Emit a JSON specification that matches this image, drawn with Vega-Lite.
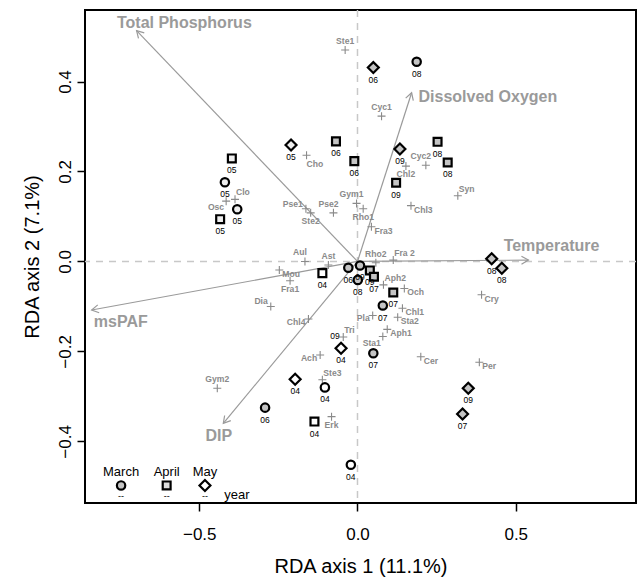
{
  "$schema": "https://vega.github.io/schema/vega-lite/v6.json",
  "width": 551,
  "height": 493,
  "autosize": "none",
  "padding": {"left": 85, "top": 10, "right": 2, "bottom": 74},
  "background": "white",
  "config": {
    "font": "Liberation Sans",
    "view": {"stroke": "black", "strokeWidth": 2},
    "axis": {
      "domain": false, "grid": false, "tickColor": "black", "tickWidth": 1.5, "tickSize": 8,
      "labelColor": "black", "labelFontSize": 17, "labelFont": "Liberation Sans",
      "titleColor": "black", "titleFontSize": 20, "titleFontWeight": "normal", "titleFont": "Liberation Sans"
    }
  },
  "datasets": {
    "sites": [
      {"month": "March", "year": "08", "x": 0.187, "y": 0.444},
      {"month": "March", "year": "05", "x": -0.419, "y": 0.176},
      {"month": "March", "year": "05", "x": -0.380, "y": 0.116},
      {"month": "March", "year": "06", "x": -0.029, "y": -0.014},
      {"month": "March", "year": "09", "x": 0.008, "y": -0.009},
      {"month": "March", "year": "08", "x": 0.001, "y": -0.041},
      {"month": "March", "year": "07", "x": 0.080, "y": -0.098},
      {"month": "March", "year": "07", "x": 0.050, "y": -0.204},
      {"month": "March", "year": "04", "x": -0.103, "y": -0.280},
      {"month": "March", "year": "06", "x": -0.292, "y": -0.325},
      {"month": "March", "year": "04", "x": -0.021, "y": -0.452},
      {"month": "April", "year": "06", "x": -0.068, "y": 0.267},
      {"month": "April", "year": "06", "x": -0.010, "y": 0.223},
      {"month": "April", "year": "08", "x": 0.253, "y": 0.266},
      {"month": "April", "year": "08", "x": 0.285, "y": 0.220},
      {"month": "April", "year": "09", "x": 0.122, "y": 0.175},
      {"month": "April", "year": "05", "x": -0.397, "y": 0.229},
      {"month": "April", "year": "05", "x": -0.434, "y": 0.094},
      {"month": "April", "year": "04", "x": -0.111, "y": -0.026},
      {"month": "April", "year": "09", "x": 0.039, "y": -0.020},
      {"month": "April", "year": "07", "x": 0.052, "y": -0.034},
      {"month": "April", "year": "07", "x": 0.113, "y": -0.069},
      {"month": "April", "year": "04", "x": -0.136, "y": -0.356},
      {"month": "May", "year": "06", "x": 0.050, "y": 0.431},
      {"month": "May", "year": "09", "x": 0.134, "y": 0.250},
      {"month": "May", "year": "05", "x": -0.210, "y": 0.259},
      {"month": "May", "year": "08", "x": 0.424, "y": 0.006},
      {"month": "May", "year": "08", "x": 0.456, "y": -0.015},
      {"month": "May", "year": "09", "x": 0.350, "y": -0.282},
      {"month": "May", "year": "07", "x": 0.332, "y": -0.339},
      {"month": "May", "year": "04", "x": -0.052, "y": -0.193},
      {"month": "May", "year": "04", "x": -0.197, "y": -0.262}
    ],
    "extraLabels": [
      {"label": "09", "x": -0.071, "y": -0.166}
    ],
    "species": [
      {"name": "Ste1", "x": -0.039, "y": 0.470, "pos": "n"},
      {"name": "Cyc1", "x": 0.076, "y": 0.323, "pos": "n"},
      {"name": "Cho", "x": -0.161, "y": 0.236, "pos": "se"},
      {"name": "Cyc2", "x": 0.216, "y": 0.214, "pos": "nw"},
      {"name": "Chl2", "x": 0.153, "y": 0.212, "pos": "s"},
      {"name": "Syn", "x": 0.317, "y": 0.146, "pos": "ne"},
      {"name": "Chl3", "x": 0.169, "y": 0.124, "pos": "e"},
      {"name": "Gym1", "x": -0.003, "y": 0.129, "pos": "nw"},
      {"name": "Rho1", "x": 0.018, "y": 0.117, "pos": "s"},
      {"name": "Pse2", "x": -0.076, "y": 0.108, "pos": "nw"},
      {"name": "Pse1", "x": -0.163, "y": 0.117, "pos": "wn"},
      {"name": "Ste2", "x": -0.148, "y": 0.108, "pos": "s"},
      {"name": "Osc", "x": -0.415, "y": 0.134, "pos": "sw"},
      {"name": "Clo", "x": -0.387, "y": 0.138, "pos": "ne"},
      {"name": "Fra3", "x": 0.044, "y": 0.077, "pos": "e"},
      {"name": "Fra 2", "x": 0.113, "y": 0.003, "pos": "ne"},
      {"name": "Rho2", "x": 0.058, "y": -0.003, "pos": "n"},
      {"name": "Ast", "x": -0.092, "y": -0.008, "pos": "n"},
      {"name": "Aul", "x": -0.166, "y": 0.000, "pos": "nw"},
      {"name": "Mou", "x": -0.247, "y": -0.019, "pos": "e"},
      {"name": "Fra1", "x": -0.213, "y": -0.043, "pos": "s"},
      {"name": "Dia", "x": -0.274, "y": -0.100, "pos": "wn"},
      {"name": "Chl4", "x": -0.155, "y": -0.128, "pos": "w"},
      {"name": "Tri", "x": -0.045, "y": -0.168, "pos": "ne"},
      {"name": "Ach", "x": -0.118, "y": -0.208, "pos": "w"},
      {"name": "Ste3", "x": -0.111, "y": -0.263, "pos": "ne"},
      {"name": "Gym2", "x": -0.443, "y": -0.282, "pos": "n"},
      {"name": "Erk", "x": -0.082, "y": -0.345, "pos": "s"},
      {"name": "Aph2", "x": 0.082, "y": -0.052, "pos": "ne"},
      {"name": "Och", "x": 0.148, "y": -0.060, "pos": "e"},
      {"name": "Chl1", "x": 0.142, "y": -0.104, "pos": "e"},
      {"name": "Pla", "x": 0.048, "y": -0.120, "pos": "w"},
      {"name": "Sta2", "x": 0.127, "y": -0.124, "pos": "e"},
      {"name": "Aph1", "x": 0.094, "y": -0.151, "pos": "e"},
      {"name": "Sta1", "x": 0.080, "y": -0.167, "pos": "sw"},
      {"name": "Cer", "x": 0.200, "y": -0.212, "pos": "e"},
      {"name": "Per", "x": 0.385, "y": -0.224, "pos": "e"},
      {"name": "Cry", "x": 0.392, "y": -0.074, "pos": "e"}
    ],
    "arrows": [
      {"name": "Total Phosphorus", "x": -0.698, "y": 0.513, "lx": -0.547, "ly": 0.531},
      {"name": "Dissolved Oxygen", "x": 0.171, "y": 0.375, "lx": 0.412, "ly": 0.366},
      {"name": "Temperature", "x": 0.540, "y": 0.003, "lx": 0.613, "ly": 0.034},
      {"name": "msPAF", "x": -0.840, "y": -0.108, "lx": -0.748, "ly": -0.134},
      {"name": "DIP", "x": -0.424, "y": -0.360, "lx": -0.438, "ly": -0.388}
    ],
    "legend": [
      {"month": "March", "x": -0.747, "y": -0.498, "ty": -0.468, "dy": -0.521},
      {"month": "April", "x": -0.603, "y": -0.498, "ty": -0.468, "dy": -0.521},
      {"month": "May", "x": -0.482, "y": -0.498, "ty": -0.468, "dy": -0.521}
    ]
  },
  "encoding": {
    "x": {"type": "quantitative", "scale": {"domain": [-0.861, 0.880], "nice": false, "zero": false},
          "axis": {"values": [-0.5, 0, 0.5], "format": ".1f", "title": "RDA axis 1 (11.1%)", "labelPadding": 15, "titlePadding": 14}},
    "y": {"type": "quantitative", "scale": {"domain": [-0.537, 0.559], "nice": false, "zero": false},
          "axis": {"values": [-0.4, -0.2, 0, 0.2, 0.4], "format": ".1f", "title": "RDA axis 2 (7.1%)", "labelAngle": -90, "labelPadding": 3, "titlePadding": 14}}
  },
  "layer": [
    {"data": {"values": [{}]}, "mark": {"type": "rule", "strokeDash": [7, 6], "color": "#c8c8c8", "strokeWidth": 1.5},
     "encoding": {"y": {"datum": 0, "type": "quantitative"}, "x": null}},
    {"data": {"values": [{}]}, "mark": {"type": "rule", "strokeDash": [7, 6], "color": "#c8c8c8", "strokeWidth": 1.5},
     "encoding": {"x": {"datum": 0, "type": "quantitative"}, "y": null}},
    {"data": {"name": "arrows"}, "mark": {"type": "rule", "color": "#9a9a9a", "strokeWidth": 1.2},
     "encoding": {"x": {"field": "x"}, "y": {"field": "y"}, "x2": {"datum": 0}, "y2": {"datum": 0}}},
    {"data": {"name": "arrows"},
     "transform": [{"calculate": "atan2(datum.x*316.5, datum.y*450)*180/PI", "as": "ang"}],
     "mark": {"type": "point", "shape": "M-0.5,0.866L0,0L0.5,0.866", "filled": false, "stroke": "#9a9a9a", "strokeWidth": 1.2, "size": 256, "opacity": 1},
     "encoding": {"x": {"field": "x"}, "y": {"field": "y"}, "angle": {"field": "ang", "type": "quantitative", "scale": null}}},
    {"data": {"name": "arrows"}, "mark": {"type": "text", "fontSize": 16, "fontWeight": "bold", "color": "#9a9a9a", "align": "center", "baseline": "middle"},
     "encoding": {"x": {"field": "lx"}, "y": {"field": "ly"}, "text": {"field": "name"}}},
    {"data": {"name": "species"},
     "mark": {"type": "point", "shape": "M-1,0L1,0M0,-1L0,1", "filled": false, "stroke": "#8a8a8a", "strokeWidth": 1.1, "size": 64, "opacity": 1},
     "encoding": {"x": {"field": "x"}, "y": {"field": "y"}}},
    {"data": {"name": "species"}, "transform": [{"filter": "datum.pos == 'n'"}],
     "mark": {"type": "text", "fontSize": 8.6, "fontWeight": "bold", "color": "#8a8a8a", "align": "center", "baseline": "middle", "dy": -9},
     "encoding": {"x": {"field": "x"}, "y": {"field": "y"}, "text": {"field": "name"}}},
    {"data": {"name": "species"}, "transform": [{"filter": "datum.pos == 'nw'"}],
     "mark": {"type": "text", "fontSize": 8.6, "fontWeight": "bold", "color": "#8a8a8a", "align": "center", "baseline": "middle", "dx": -5, "dy": -9},
     "encoding": {"x": {"field": "x"}, "y": {"field": "y"}, "text": {"field": "name"}}},
    {"data": {"name": "species"}, "transform": [{"filter": "datum.pos == 's'"}],
     "mark": {"type": "text", "fontSize": 8.6, "fontWeight": "bold", "color": "#8a8a8a", "align": "center", "baseline": "middle", "dy": 8},
     "encoding": {"x": {"field": "x"}, "y": {"field": "y"}, "text": {"field": "name"}}},
    {"data": {"name": "species"}, "transform": [{"filter": "datum.pos == 'se'"}],
     "mark": {"type": "text", "fontSize": 8.6, "fontWeight": "bold", "color": "#8a8a8a", "align": "left", "baseline": "middle", "dx": 0, "dy": 9},
     "encoding": {"x": {"field": "x"}, "y": {"field": "y"}, "text": {"field": "name"}}},
    {"data": {"name": "species"}, "transform": [{"filter": "datum.pos == 'ne'"}],
     "mark": {"type": "text", "fontSize": 8.6, "fontWeight": "bold", "color": "#8a8a8a", "align": "left", "baseline": "middle", "dx": 1, "dy": -7},
     "encoding": {"x": {"field": "x"}, "y": {"field": "y"}, "text": {"field": "name"}}},
    {"data": {"name": "species"}, "transform": [{"filter": "datum.pos == 'e'"}],
     "mark": {"type": "text", "fontSize": 8.6, "fontWeight": "bold", "color": "#8a8a8a", "align": "left", "baseline": "middle", "dx": 3, "dy": 4},
     "encoding": {"x": {"field": "x"}, "y": {"field": "y"}, "text": {"field": "name"}}},
    {"data": {"name": "species"}, "transform": [{"filter": "datum.pos == 'w'"}],
     "mark": {"type": "text", "fontSize": 8.6, "fontWeight": "bold", "color": "#8a8a8a", "align": "right", "baseline": "middle", "dx": -3, "dy": 3},
     "encoding": {"x": {"field": "x"}, "y": {"field": "y"}, "text": {"field": "name"}}},
    {"data": {"name": "species"}, "transform": [{"filter": "datum.pos == 'sw'"}],
     "mark": {"type": "text", "fontSize": 8.6, "fontWeight": "bold", "color": "#8a8a8a", "align": "right", "baseline": "middle", "dx": -2, "dy": 6},
     "encoding": {"x": {"field": "x"}, "y": {"field": "y"}, "text": {"field": "name"}}},
    {"data": {"name": "species"}, "transform": [{"filter": "datum.pos == 'wn'"}],
     "mark": {"type": "text", "fontSize": 8.6, "fontWeight": "bold", "color": "#8a8a8a", "align": "right", "baseline": "middle", "dx": -3, "dy": -5},
     "encoding": {"x": {"field": "x"}, "y": {"field": "y"}, "text": {"field": "name"}}},
    {"data": {"name": "sites"},
     "mark": {"type": "point", "filled": true, "stroke": "black", "strokeWidth": 2.2, "opacity": 1},
     "encoding": {"x": {"field": "x"}, "y": {"field": "y"},
       "shape": {"field": "month", "type": "nominal", "scale": {"domain": ["March", "April", "May"], "range": ["circle", "square", "diamond"]}, "legend": null},
       "size": {"field": "month", "type": "nominal", "scale": {"type": "ordinal", "domain": ["March", "April", "May"], "range": [70, 62, 120]}, "legend": null},
       "fill": {"field": "year", "type": "nominal", "scale": {"domain": ["04", "05", "06", "07", "08", "09"], "range": ["#ffffff", "#eeeeee", "#c4c4c4", "#c4c4c4", "#c4c4c4", "#c4c4c4"]}, "legend": null}}},
    {"data": {"name": "sites"}, "mark": {"type": "text", "fontSize": 8.5, "color": "black", "align": "center", "baseline": "middle", "dy": 12},
     "encoding": {"x": {"field": "x"}, "y": {"field": "y"}, "text": {"field": "year"}}},
    {"data": {"name": "extraLabels"}, "mark": {"type": "text", "fontSize": 8.5, "color": "black", "align": "center", "baseline": "middle"},
     "encoding": {"x": {"field": "x"}, "y": {"field": "y"}, "text": {"field": "label"}}},
    {"data": {"name": "legend"},
     "mark": {"type": "point", "filled": true, "stroke": "black", "strokeWidth": 2.2, "opacity": 1},
     "encoding": {"x": {"field": "x"}, "y": {"field": "y"},
       "shape": {"field": "month", "type": "nominal", "scale": {"domain": ["March", "April", "May"], "range": ["circle", "square", "diamond"]}, "legend": null},
       "size": {"field": "month", "type": "nominal", "scale": {"type": "ordinal", "domain": ["March", "April", "May"], "range": [70, 62, 120]}, "legend": null},
       "fill": {"field": "month", "type": "nominal", "scale": {"domain": ["March", "April", "May"], "range": ["#c4c4c4", "#dddddd", "#ffffff"]}, "legend": null}}},
    {"data": {"name": "legend"}, "mark": {"type": "text", "fontSize": 13, "color": "black", "align": "center", "baseline": "middle"},
     "encoding": {"x": {"field": "x"}, "y": {"field": "ty"}, "text": {"field": "month"}}},
    {"data": {"name": "legend"}, "mark": {"type": "text", "fontSize": 9, "color": "black", "align": "center", "baseline": "middle", "text": "--"},
     "encoding": {"x": {"field": "x"}, "y": {"field": "dy"}}},
    {"data": {"values": [{"label": "year", "x": -0.421, "y": -0.519}]}, "mark": {"type": "text", "fontSize": 13, "color": "black", "align": "left", "baseline": "middle"},
     "encoding": {"x": {"field": "x"}, "y": {"field": "y"}, "text": {"field": "label"}}}
  ],
  "resolve": {"scale": {"fill": "independent"}}
}
